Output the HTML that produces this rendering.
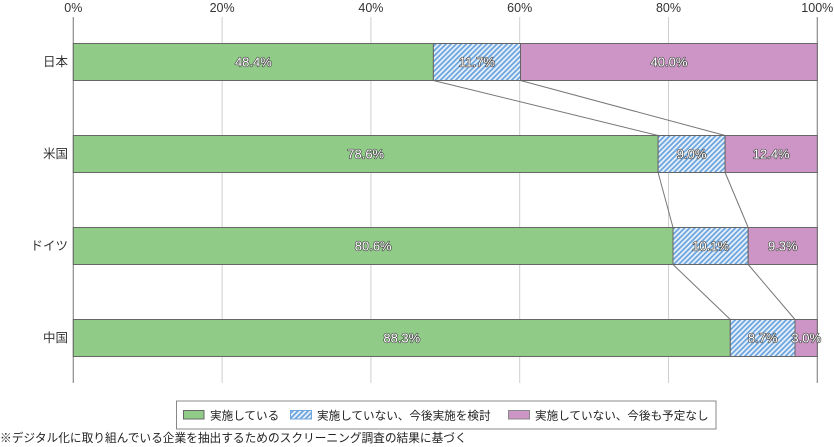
<!DOCTYPE html>
<html><head><meta charset="utf-8"><style>
html,body{margin:0;padding:0;background:#fff;}
svg{display:block;}
text{font-family:"Liberation Sans","Noto Sans CJK JP",sans-serif;}
</style></head><body>
<svg width="834" height="447" viewBox="0 0 834 447" xmlns="http://www.w3.org/2000/svg">
<defs>
<pattern id="h" patternUnits="userSpaceOnUse" width="3.6" height="3.6" patternTransform="rotate(45)">
<rect width="3.6" height="3.6" fill="#e6f0fb"/>
<line x1="0.9" y1="0" x2="0.9" y2="3.6" stroke="#6ea6dd" stroke-width="1.8"/>
</pattern>
</defs>
<!-- grid -->
<g stroke="#cfcfcf" stroke-width="1">
<line x1="222.1" y1="17" x2="222.1" y2="383"/>
<line x1="370.9" y1="17" x2="370.9" y2="383"/>
<line x1="519.7" y1="17" x2="519.7" y2="383"/>
<line x1="668.5" y1="17" x2="668.5" y2="383"/>
</g>
<g stroke="#8a8a8a" stroke-width="1.2">
<line x1="73.3" y1="17" x2="73.3" y2="383"/>
<line x1="817.3" y1="17" x2="817.3" y2="383"/>
</g>
<!-- tick labels -->
<g font-size="12.5" fill="#333" text-anchor="middle">
<text x="73.3" y="12">0%</text>
<text x="222.1" y="12">20%</text>
<text x="370.9" y="12">40%</text>
<text x="519.7" y="12">60%</text>
<text x="668.5" y="12">80%</text>
<text x="817.3" y="12">100%</text>
</g>
<!-- category labels -->
<g font-size="12.5" fill="#333" text-anchor="end">
<text x="68" y="66">日本</text>
<text x="68" y="158">米国</text>
<text x="68" y="250">ドイツ</text>
<text x="68" y="342">中国</text>
</g>
<!-- connectors -->
<g stroke="#777" stroke-width="1">
<line x1="433.4" y1="80.5" x2="658.1" y2="135.5"/>
<line x1="520.5" y1="80.5" x2="725.1" y2="135.5"/>
<line x1="658.1" y1="172.5" x2="673.0" y2="227.5"/>
<line x1="725.1" y1="172.5" x2="748.2" y2="227.5"/>
<line x1="673.0" y1="264.5" x2="730.3" y2="319.5"/>
<line x1="748.2" y1="264.5" x2="795.0" y2="319.5"/>
</g>
<!-- bars -->
<g stroke="#666" stroke-width="1">
<rect x="73.3" y="43.5" width="360.1" height="37" fill="#90cb88"/>
<rect x="433.4" y="43.5" width="87.1" height="37" fill="url(#h)"/>
<rect x="520.5" y="43.5" width="296.8" height="37" fill="#cd95c5"/>

<rect x="73.3" y="135.5" width="584.8" height="37" fill="#90cb88"/>
<rect x="658.1" y="135.5" width="67.0" height="37" fill="url(#h)"/>
<rect x="725.1" y="135.5" width="92.2" height="37" fill="#cd95c5"/>

<rect x="73.3" y="227.5" width="599.7" height="37" fill="#90cb88"/>
<rect x="673.0" y="227.5" width="75.2" height="37" fill="url(#h)"/>
<rect x="748.2" y="227.5" width="69.1" height="37" fill="#cd95c5"/>

<rect x="73.3" y="319.5" width="657.0" height="37" fill="#90cb88"/>
<rect x="730.3" y="319.5" width="64.7" height="37" fill="url(#h)"/>
<rect x="795.0" y="319.5" width="22.3" height="37" fill="#cd95c5"/>
</g>
<!-- value labels -->
<g font-size="13" fill="#fff" stroke="#444" stroke-width="1.3" paint-order="stroke" text-anchor="middle" stroke-linejoin="round">
<text x="253.4" y="66.5">48.4%</text>
<text x="477" y="66.5">11.7%</text>
<text x="669" y="66.5">40.0%</text>
<text x="365.7" y="158.5">78.6%</text>
<text x="691.6" y="158.5">9.0%</text>
<text x="771.2" y="158.5">12.4%</text>
<text x="373.2" y="250.5">80.6%</text>
<text x="710.6" y="250.5">10.1%</text>
<text x="782.8" y="250.5">9.3%</text>
<text x="401.8" y="342.5">88.3%</text>
<text x="762.7" y="342.5">8.7%</text>
<text x="806.2" y="342.5">3.0%</text>
</g>
<!-- legend -->
<rect x="176.5" y="401" width="539.5" height="28" fill="#fff" stroke="#888" stroke-width="1"/>
<rect x="183.5" y="410.5" width="20.5" height="8.5" fill="#90cb88" stroke="#666" stroke-width="1"/>
<rect x="290.5" y="410.5" width="21" height="8.5" fill="url(#h)" stroke="#6ea6dd" stroke-width="1"/>
<rect x="508.5" y="410.5" width="21" height="8.5" fill="#cd95c5" stroke="#888" stroke-width="1"/>
<g font-size="11.6" fill="#222">
<text x="210" y="419.5">実施している</text>
<text x="317" y="419.5">実施していない、今後実施を検討</text>
<text x="535" y="419.5">実施していない、今後も予定なし</text>
</g>
<text x="0" y="442" font-size="11.7" fill="#222">※デジタル化に取り組んでいる企業を抽出するためのスクリーニング調査の結果に基づく</text>
</svg>
</body></html>
